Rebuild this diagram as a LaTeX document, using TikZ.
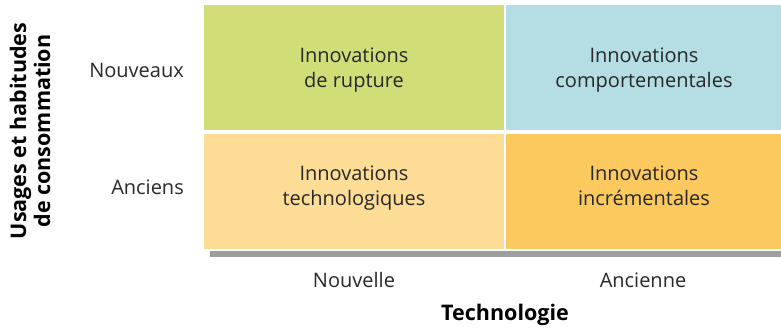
\documentclass[tikz,border=0pt]{standalone}
\usepackage{fontspec}
\setmainfont{Open Sans}
\definecolor{qgreen}{RGB}{210,221,120}
\definecolor{qblue}{RGB}{180,222,228}
\definecolor{qlorange}{RGB}{253,220,150}
\definecolor{qorange}{RGB}{251,201,94}
\definecolor{qbar}{RGB}{158,158,158}
\definecolor{qtext}{RGB}{40,40,40}
\begin{document}
\begin{tikzpicture}[x=1pt,y=-1pt,
  qlabel/.style={text=qtext,inner sep=0pt,font=\fontsize{20}{24.5}\selectfont,align=center,anchor=base},
  axlab/.style={text=qtext,inner sep=0pt,font=\fontsize{20}{24}\selectfont,anchor=base},
  axtitle/.style={text=black,inner sep=0pt,font=\fontsize{21.5}{24}\selectfont\bfseries,align=center}]
\useasboundingbox (0,0) rectangle (781,327);
\fill[qgreen] (204,5) rectangle (503.5,130);
\fill[qblue] (506,5) rectangle (781,130);
\fill[qlorange] (204,134) rectangle (503.5,248.5);
\fill[qorange] (506,134) rectangle (781,248.5);
\fill[qbar] (210,251) rectangle (781,257);
\node[qlabel] (q1) at (354,87) {Innovations\\de rupture};
\node[qlabel] (q2) at (644,87) {Innovations\\comportementales};
\node[qlabel] (q3) at (354,205) {Innovations\\technologiques};
\node[qlabel] (q4) at (644,205) {Innovations\\incrémentales};
\node[axlab,anchor=base east] (n1) at (184,77) {Nouveaux};
\node[axlab,anchor=base east] (n2) at (184,194) {Anciens};
\node[axlab] (t1) at (354,287) {Nouvelle};
\node[axlab] (t2) at (643,287) {Ancienne};
\node[axtitle,anchor=base] (tt) at (505,320) {Technologie};
\node[axtitle,rotate=90] (ut) at (30,131) {Usages et habitudes\\de consommation};
\end{tikzpicture}
\end{document}
